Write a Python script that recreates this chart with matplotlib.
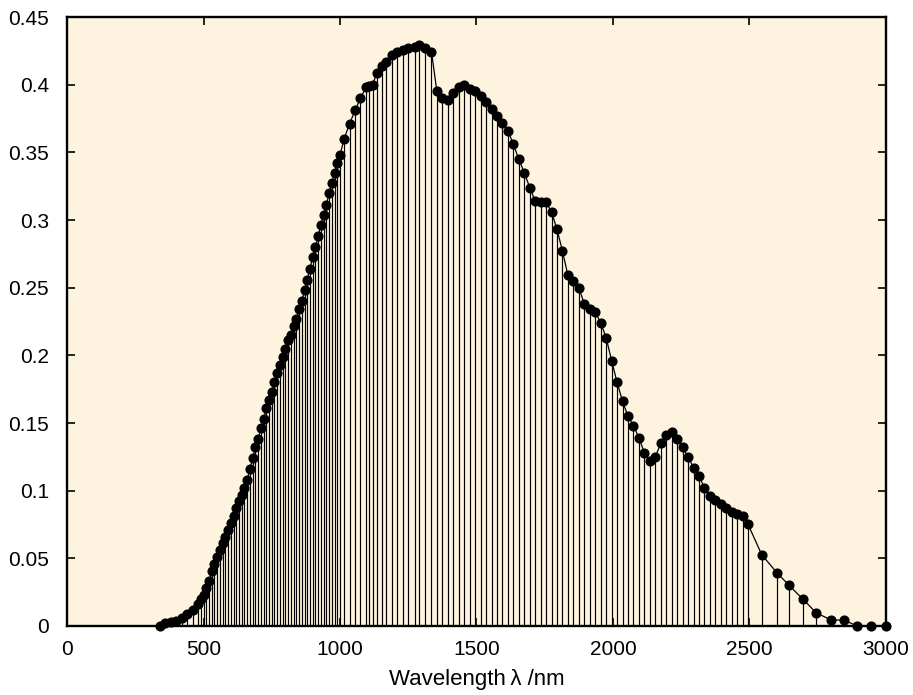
"""
plot.py
-------
Stem plot of a solar spectral weighting curve versus wavelength.
Each sample is drawn as a vertical line down to zero, with a dot on top
and a thin line joining the dots.
"""

import matplotlib
matplotlib.use("Agg")
import matplotlib.pyplot as plt


# ─── Data ────────────────────────────────────────────────────────────────────

# short-wave tail, coarse sampling
tail_nm  = [340, 360, 380, 400, 420, 440, 460]
tail_val = [0.000, 0.002, 0.003, 0.004, 0.006, 0.009, 0.012]

# visible / near IR, 10 nm sampling
vis_nm = [480, 490, 500, 510, 520, 530, 540, 550, 560, 570,
          580, 590, 600, 610, 620, 630, 640, 650, 660, 670,
          680, 690, 700, 710, 720, 730, 740, 750, 760, 770,
          780, 790, 800, 810, 820, 830, 840, 850, 860, 870,
          880, 890, 900, 910, 920, 930, 940, 950, 960, 970,
          980, 990, 1000]
vis_val = [0.016, 0.020, 0.023, 0.028, 0.033, 0.041, 0.046, 0.051, 0.056, 0.061,
           0.066, 0.071, 0.076, 0.081, 0.087, 0.092, 0.097, 0.102, 0.108, 0.116,
           0.124, 0.132, 0.138, 0.146, 0.153, 0.161, 0.167, 0.173, 0.180, 0.187,
           0.193, 0.199, 0.205, 0.211, 0.215, 0.222, 0.227, 0.234, 0.240, 0.248,
           0.256, 0.264, 0.273, 0.280, 0.288, 0.296, 0.304, 0.311, 0.320, 0.327,
           0.335, 0.342, 0.348]

# peak region up to the 1350 nm drop
peak_nm  = [1015, 1035, 1055, 1075, 1095, 1105, 1120, 1135, 1155, 1170,
            1190, 1210, 1230, 1250, 1275, 1290, 1310, 1335]
peak_val = [0.360, 0.371, 0.381, 0.390, 0.398, 0.399, 0.400, 0.409, 0.414, 0.417,
            0.422, 0.424, 0.426, 0.427, 0.428, 0.429, 0.427, 0.4245]

# infrared, 20 nm sampling
ir_nm = [1355, 1375, 1395, 1415, 1435, 1455, 1475, 1495, 1515, 1535,
         1555, 1575, 1595, 1615, 1635, 1655, 1675, 1695, 1715, 1735,
         1755, 1775, 1795, 1815, 1835, 1855, 1875, 1895, 1915, 1935,
         1955, 1975, 1995, 2015, 2035, 2055, 2075, 2095, 2115, 2135,
         2155, 2175, 2195, 2215, 2235, 2255, 2275, 2295, 2315, 2335,
         2355, 2375, 2395, 2415, 2435, 2455, 2475, 2495]
ir_val = [0.395, 0.390, 0.389, 0.394, 0.398, 0.400, 0.397, 0.395, 0.392, 0.387,
          0.382, 0.377, 0.372, 0.366, 0.356, 0.345, 0.335, 0.324, 0.314, 0.313,
          0.313, 0.306, 0.293, 0.277, 0.259, 0.255, 0.250, 0.238, 0.234, 0.232,
          0.224, 0.213, 0.196, 0.180, 0.166, 0.155, 0.148, 0.139, 0.128, 0.122,
          0.125, 0.135, 0.141, 0.143, 0.138, 0.132, 0.125, 0.117, 0.111, 0.102,
          0.096, 0.093, 0.090, 0.087, 0.084, 0.083, 0.081, 0.075]

# long-wave tail, coarse sampling
far_nm  = [2545, 2600, 2645, 2695, 2745, 2800, 2845, 2895, 2945, 3000]
far_val = [0.0526, 0.0395, 0.030, 0.020, 0.0096, 0.0044, 0.0044, 0.0, 0.0, 0.0]

X_TICKS = [0, 500, 1000, 1500, 2000, 2500, 3000]
Y_TICKS = [0, 0.05, 0.1, 0.15, 0.2, 0.25, 0.3, 0.35, 0.4, 0.45]
Y_TICK_LABELS = ["0", "0.05", "0.1", "0.15", "0.2", "0.25", "0.3", "0.35", "0.4", "0.45"]

BG_COLOR = "#fdf3df"


# ─── Plot ────────────────────────────────────────────────────────────────────

def plot_spectrum(output_path="out.png"):
    wl  = tail_nm + vis_nm + peak_nm + ir_nm + far_nm
    val = tail_val + vis_val + peak_val + ir_val + far_val
    assert len(wl) == len(val)

    plt.rcParams["font.family"] = ["Liberation Sans", "DejaVu Sans"]

    fig = plt.figure(figsize=(9.13, 6.95), dpi=100)
    ax = fig.add_axes([0.0734, 0.0993, 0.897, 0.8762])
    ax.set_facecolor(BG_COLOR)

    # stems, joining line, dots
    ax.vlines(wl, 0, val, color="black", linewidth=0.85, zorder=2)
    ax.plot(wl, val, color="black", linewidth=0.9, zorder=3)
    ax.plot(wl, val, "o", color="black", markersize=6.3, zorder=4, clip_on=False)

    ax.set_xlim(0, 3000)
    ax.set_ylim(0, 0.45)
    ax.set_xticks(X_TICKS)
    ax.set_xticklabels([str(t) for t in X_TICKS])
    ax.set_yticks(Y_TICKS)
    ax.set_yticklabels(Y_TICK_LABELS)

    ax.tick_params(direction="in", length=6, width=1.2, top=True, right=True,
                   labelsize=15, colors="black")
    ax.tick_params(axis="y", pad=13)
    ax.tick_params(axis="x", pad=10)
    for spine in ax.spines.values():
        spine.set_linewidth(1.7)

    ax.set_xlabel("Wavelength\u2009\u03bb /nm", fontsize=16, labelpad=7)

    fig.savefig(output_path, dpi=100)
    plt.close(fig)


if __name__ == "__main__":
    plot_spectrum()
